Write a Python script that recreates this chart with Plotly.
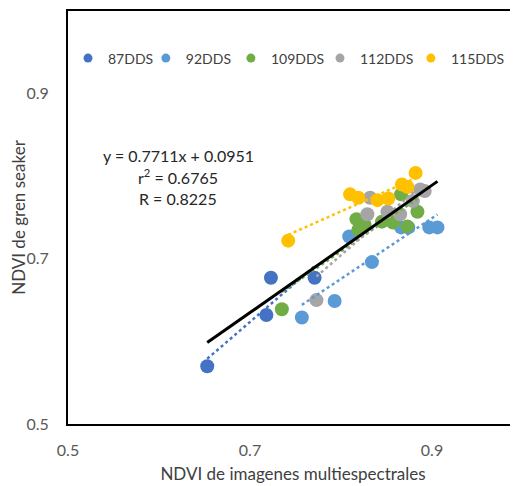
import numpy as np
import plotly.graph_objects as go

series_names = ["87DDS", "92DDS", "109DDS", "112DDS", "115DDS"]
colors = ["#4472C4", "#5B9BD5", "#70AD47", "#A5A5A5", "#FFC000"]

x_87 = [0.653, 0.718, 0.723, 0.771]
y_87 = [0.570, 0.632, 0.677, 0.677]

x_92 = [0.757, 0.793, 0.809, 0.834, 0.866, 0.874, 0.897, 0.906]
y_92 = [0.629, 0.649, 0.727, 0.696, 0.738, 0.738, 0.738, 0.738]

x_109 = [0.735, 0.817, 0.819, 0.826, 0.845, 0.857, 0.866, 0.873, 0.884]
y_109 = [0.639, 0.748, 0.735, 0.741, 0.745, 0.744, 0.778, 0.739, 0.757]

x_112 = [0.773, 0.829, 0.832, 0.851, 0.865, 0.879, 0.887, 0.892]
y_112 = [0.650, 0.754, 0.774, 0.757, 0.754, 0.770, 0.784, 0.782]

x_115 = [0.742, 0.810, 0.819, 0.840, 0.852, 0.867, 0.873, 0.882]
y_115 = [0.722, 0.778, 0.774, 0.771, 0.773, 0.790, 0.787, 0.804]

all_x = [x_87, x_92, x_109, x_112, x_115]
all_y = [y_87, y_92, y_109, y_112, y_115]

slope, intercept = 0.7711, 0.0951
eq_lines = ["y = 0.7711x + 0.0951", "r<sup>2</sup> = 0.6765", "R = 0.8225"]
eq_y = [0.8246, 0.7995, 0.7736]

x_ticks = [0.5, 0.7, 0.9]
y_ticks = [0.5, 0.7, 0.9]

FONT = "Lato"
fig = go.Figure()

# markers
for name, c, xs, ys in zip(series_names, colors, all_x, all_y):
    fig.add_trace(go.Scatter(x=xs, y=ys, mode="markers", name=name,
                             marker=dict(color=c, size=14, line=dict(width=0)),
                             showlegend=False))

# per-series linear trendlines (dotted)
for name, c, xs, ys in zip(series_names, colors, all_x, all_y):
    m, b = np.polyfit(xs, ys, 1)
    xx = np.array([min(xs), max(xs)])
    fig.add_trace(go.Scatter(x=xx, y=m * xx + b, mode="lines",
                             line=dict(color=c, width=2.5, dash="dot"),
                             showlegend=False, hoverinfo="skip"))

# overall regression line
flat_x = [v for xs in all_x for v in xs]
xx = np.array([min(flat_x), max(flat_x)])
fig.add_trace(go.Scatter(x=xx, y=slope * xx + intercept, mode="lines",
                         line=dict(color="black", width=3),
                         showlegend=False, hoverinfo="skip"))

# legend entries: one legend box per series, laid out in a row
legend_ids = ["legend", "legend2", "legend3", "legend4", "legend5"]
legend_x = [0.0, 0.173, 0.362, 0.56, 0.762]
for name, c, lid in zip(series_names, colors, legend_ids):
    fig.add_trace(go.Scatter(x=[None], y=[None], mode="markers", name=name,
                             marker=dict(color=c, size=9), legend=lid))

for txt, yy in zip(eq_lines, eq_y):
    fig.add_annotation(x=0.621, y=yy, xref="x", yref="y", text=txt, showarrow=False,
                       align="center", font=dict(family=FONT, size=16, color="#262626"))

legend_style = dict(orientation="h", yanchor="middle", y=0.885, xanchor="left",
                    font=dict(family=FONT, size=14, color="#404040"),
                    itemwidth=30, tracegroupgap=0, bgcolor="rgba(0,0,0,0)")

fig.update_layout(
    width=510, height=478,
    margin=dict(l=60, r=0, t=3, b=62, autoexpand=False),
    paper_bgcolor="white", plot_bgcolor="white",
    font=dict(family=FONT, size=16, color="#595959"),
    showlegend=True,
    xaxis=dict(range=[0.5, 0.9945], tickvals=x_ticks, ticktext=[f"{v:.1f}" for v in x_ticks],
               showgrid=False, zeroline=False, showline=True, linecolor="black", linewidth=2,
               mirror=True, ticks="", ticklabelstandoff=11, automargin=False,
               title=dict(text="NDVI de imagenes multiespectrales", standoff=10,
                          font=dict(family=FONT, size=17, color="#404040"))),
    yaxis=dict(range=[0.5, 1.0], tickvals=y_ticks, ticktext=[f"{v:.1f}" for v in y_ticks],
               showgrid=False, zeroline=False, showline=True, linecolor="black", linewidth=2,
               mirror=False, ticks="", ticklabelstandoff=14, automargin=False,
               title=dict(text="NDVI de gren seaker", standoff=10,
                          font=dict(family=FONT, size=17, color="#404040"))),
)
fig.update_layout({lid: dict(x=lx, **legend_style) for lid, lx in zip(legend_ids, legend_x)})

fig.write_html("out.html")
